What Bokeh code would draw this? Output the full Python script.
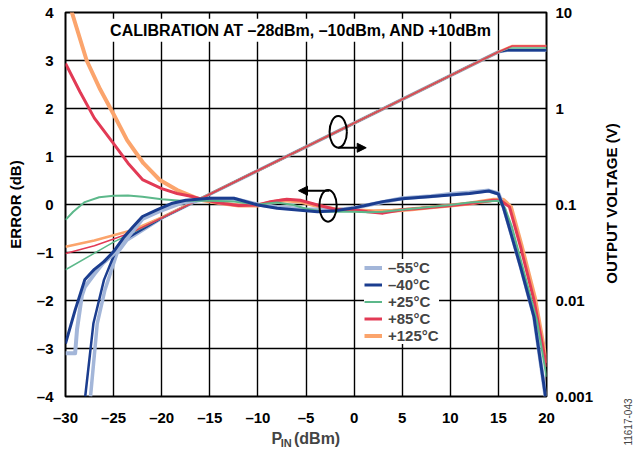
from math import pi
from bokeh.plotting import figure
from bokeh.layouts import row, column
from bokeh.models import (Range1d, LogAxis, LogScale, FixedTicker, CustomJSTickFormatter,
                          Legend, LegendItem, Label, Arrow, NormalHead)
from bokeh.embed import file_html
from bokeh.resources import INLINE

FONT = "Liberation Sans"

# ---------------- data ----------------
x_ticks = [-30, -25, -20, -15, -10, -5, 0, 5, 10, 15, 20]
y_ticks = [-4, -3, -2, -1, 0, 1, 2, 3, 4]
v_ticks = [0.001, 0.01, 0.1, 1, 10]

labels = ["\u201355\u00b0C", "\u201340\u00b0C", "+25\u00b0C", "+85\u00b0C", "+125\u00b0C"]

# error curves (dB)
pin_m55 = [-30, -29, -28.8, -28.3, -28, -27, -26, -25, -24, -22, -20, -18, -15, -12.5, -10, -8, -5, -2, 0, 2, 5, 8, 10, 12, 14, 15, 15.5, 16, 17.3, 18.7, 19.9]
err_m55 = [-3.1, -3.1, -2.6, -1.9, -1.72, -1.45, -1.2, -1.03, -0.8, -0.3, -0.12, 0.03, 0.12, 0.12, 0.0, -0.05, -0.1, -0.12, -0.07, 0.01, 0.13, 0.17, 0.22, 0.25, 0.29, 0.23, -0.03, -0.37, -1.28, -2.32, -4.0]

pin_m40 = [-30, -29, -28, -27, -26, -25, -24, -23, -22, -20.5, -19, -17.5, -15, -12.5, -10, -8, -5, -3.8, -2, 0, 1.4, 3, 5, 7, 10, 12, 14, 15, 15.5, 16, 17.3, 18.7, 19.9]
err_m40 = [-2.9, -2.2, -1.57, -1.35, -1.19, -0.98, -0.7, -0.47, -0.25, -0.11, 0.02, 0.09, 0.13, 0.13, -0.01, -0.08, -0.13, -0.15, -0.13, -0.07, -0.01, 0.06, 0.12, 0.15, 0.2, 0.23, 0.28, 0.22, -0.05, -0.39, -1.3, -2.34, -4.0]

pin_p25 = [-30, -29.2, -28, -26.5, -25, -23.5, -22, -20, -18, -15, -12.5, -10, -8, -6.3, -5, -3, 0, 1.5, 3, 5, 7, 10, 12, 15, 15.7, 16.4, 17.6, 19, 20]
err_p25 = [-0.32, -0.15, 0.05, 0.15, 0.18, 0.19, 0.16, 0.11, 0.08, 0.08, 0.06, 0.0, 0.04, -0.01, -0.09, -0.15, -0.15, -0.16, -0.15, -0.11, -0.07, -0.01, 0.04, 0.08, -0.08, -0.46, -1.36, -2.41, -3.59]

pin_p85 = [-30, -28.5, -27, -25, -23.5, -22, -20, -18.4, -16.7, -16, -14, -12, -10, -8.7, -7, -5.6, -3.8, -2, 0, 1.4, 3, 5, 7, 10, 12, 14.5, 15.2, 16.15, 17.3, 18.7, 20]
err_p85 = [2.94, 2.35, 1.8, 1.27, 0.86, 0.52, 0.33, 0.23, 0.16, 0.12, 0.03, -0.02, -0.01, 0.06, 0.11, 0.09, -0.01, -0.1, -0.11, -0.15, -0.18, -0.11, -0.08, -0.02, 0.02, 0.09, 0.09, -0.05, -0.88, -1.99, -3.38]

pin_p125 = [-30, -29.3, -27.8, -26.4, -25, -23.6, -21.9, -20.2, -18.4, -16.7, -16, -14, -12, -10, -8.5, -7.3, -5.6, -4, -2, 0, 2, 4, 6, 8, 10, 12, 14.5, 15.5, 16.3, 17.4, 18.8, 20]
err_p125 = [4.45, 3.98, 3.0, 2.4, 1.88, 1.34, 0.86, 0.51, 0.30, 0.16, 0.1, 0.03, -0.02, -0.02, 0.05, 0.09, 0.06, -0.02, -0.1, -0.12, -0.14, -0.13, -0.1, -0.06, -0.02, 0.02, 0.1, 0.1, -0.05, -0.85, -1.95, -3.3]

# output voltage curves (V)
vx_m55 = [-27.4, -26.7, -25.9, -24.65, -23.6, -20, -15, -10, -5, 0, 5, 10, 15, 15.9, 20]
v_m55 = [0.001, 0.00575, 0.0129, 0.031, 0.0427, 0.0724, 0.128, 0.226, 0.398, 0.705, 1.245, 2.2, 3.89, 4.04, 4.04]

vx_m40 = [-27.95, -27.1, -26.0, -24.8, -23.6, -20, -15, -10, -5, 0, 5, 10, 15, 15.9, 20]
v_m40 = [0.001, 0.00575, 0.0164, 0.0324, 0.0447, 0.0724, 0.128, 0.226, 0.398, 0.705, 1.245, 2.2, 3.89, 4.04, 4.04]

vx_p25 = [-30, -25, -20, -15, -10, -5, 0, 5, 10, 15, 16.1, 20]
v_p25 = [0.0209, 0.0405, 0.0724, 0.128, 0.226, 0.398, 0.705, 1.245, 2.2, 3.89, 4.27, 4.27]

vx_p85 = [-30, -27, -25, -23, -20, -15, -10, -5, 0, 5, 10, 15, 16.4, 20]
v_p85 = [0.0309, 0.0372, 0.0437, 0.0519, 0.0724, 0.128, 0.226, 0.398, 0.705, 1.245, 2.2, 3.89, 4.47, 4.47]

vx_p125 = [-30, -27, -25, -23, -20, -15, -10, -5, 0, 5, 10, 15, 16.4, 20]
v_p125 = [0.0363, 0.0422, 0.0479, 0.0543, 0.0735, 0.128, 0.226, 0.398, 0.705, 1.245, 2.2, 3.89, 4.47, 4.47]

colors = {"m55": "#a3b6d9", "m40": "#1b3d8f", "p25": "#5cb88a", "p85": "#e23a55", "p125": "#fba46c"}
widths = {"m55": 4, "m40": 3, "p25": 2, "p85": 3, "p125": 4}

# ---------------- main figure ----------------
p = figure(frame_width=481, frame_height=384,
           min_border_left=65, min_border_right=54, min_border_top=12, min_border_bottom=32,
           x_range=Range1d(-30, 20), y_range=Range1d(-4, 4),
           extra_y_ranges={"v": Range1d(0.001, 10)}, extra_y_scales={"v": LogScale()},
           output_backend="svg", toolbar_location=None, background_fill_color="white",
           border_fill_color="white")
p.outline_line_color = "black"
p.outline_line_width = 2
p.outline_line_alpha = 1

neg_fmt = "return tick < 0 ? '\\u2013' + (-tick) : '' + tick;"

xa = p.xaxis[0]
xa.ticker = FixedTicker(ticks=x_ticks)
xa.formatter = CustomJSTickFormatter(code=neg_fmt)
xa.major_label_standoff = 12
xa.axis_label_standoff = 0

ya = p.yaxis[0]
ya.ticker = FixedTicker(ticks=y_ticks)
ya.formatter = CustomJSTickFormatter(code=neg_fmt)
ya.major_label_standoff = 12
ya.axis_label = "ERROR (dB)"
ya.axis_label_standoff = 10

ra = LogAxis(y_range_name="v", ticker=FixedTicker(ticks=v_ticks),
             formatter=CustomJSTickFormatter(code="return '' + tick;"))
ra.major_label_standoff = 9
ra.axis_label_standoff = 0
p.add_layout(ra, "right")

for ax in (xa, ya, ra):
    ax.axis_line_color = None
    ax.major_tick_line_color = None
    ax.minor_tick_line_color = None
    ax.major_tick_out = 0
    ax.major_tick_in = 0
    ax.minor_tick_out = 0
    ax.minor_tick_in = 0
    ax.major_label_text_font = FONT
    ax.major_label_text_font_size = "15px"
    ax.major_label_text_font_style = "bold"
    ax.major_label_text_color = "black"
    ax.axis_label_text_font = FONT
    ax.axis_label_text_font_size = "15px"
    ax.axis_label_text_font_style = "bold"
    ax.axis_label_text_color = "black"

p.xgrid.ticker = FixedTicker(ticks=x_ticks)
p.ygrid.ticker = FixedTicker(ticks=y_ticks)
for g in (p.xgrid[0], p.ygrid[0]):
    g.grid_line_color = "black"
    g.grid_line_width = 1.4
    g.grid_line_alpha = 1

# ---------------- curves ----------------
err_data = {"m55": (pin_m55, err_m55), "m40": (pin_m40, err_m40), "p25": (pin_p25, err_p25),
            "p85": (pin_p85, err_p85), "p125": (pin_p125, err_p125)}
v_data = {"m55": (vx_m55, v_m55), "m40": (vx_m40, v_m40), "p25": (vx_p25, v_p25),
          "p85": (vx_p85, v_p85), "p125": (vx_p125, v_p125)}

for k in ["m55", "m40", "p125", "p25", "p85"]:
    vx, vy = v_data[k]
    w = 3.5 if k == "m55" else 2.5 if k in ("m40", "p125") else 1.5
    p.line(vx, vy, y_range_name="v", line_color=colors[k], line_width=w, line_join="round")

renderers = {}
for k in ["p125", "m55", "p85", "p25", "m40"]:
    ex, ey = err_data[k]
    renderers[k] = p.line(ex, ey, line_color=colors[k], line_width=widths[k], line_join="round")

legend = Legend(items=[LegendItem(label=lab, renderers=[renderers[k]])
                       for lab, k in zip(labels, ["m55", "m40", "p25", "p85", "p125"])],
                location=(299, 52), margin=0, padding=8, spacing=-1,
                glyph_width=18, glyph_height=15, label_height=15, label_standoff=6,
                label_text_font=FONT, label_text_font_size="15px", label_text_font_style="bold",
                border_line_color=None, background_fill_color="white", background_fill_alpha=1)
p.add_layout(legend)

# ---------------- annotations ----------------
p.add_layout(Label(x=-5.5, y=3.63, text="CALIBRATION AT \u201328dBm, \u201310dBm, AND +10dBm",
                   text_align="center", text_baseline="middle", text_font=FONT,
                   text_font_size="16px", text_font_style="bold", text_color="black",
                   background_fill_color="white", padding=3))

p.ellipse(x=[-1.65, -2.71], y=[1.513, -0.027], width=1.8, height=0.66,
          fill_color=None, line_color="black", line_width=2)
p.add_layout(Arrow(end=NormalHead(size=9, fill_color="black", line_color="black"),
                   x_start=-1.65, y_start=1.182, x_end=1.26, y_end=1.182, line_width=2))
p.add_layout(Arrow(end=NormalHead(size=9, fill_color="black", line_color="black"),
                   x_start=-2.59, y_start=0.287, x_end=-5.78, y_end=0.287, line_width=2))


def strip(w, h):
    f = figure(width=w, height=h, x_range=Range1d(0, w), y_range=Range1d(0, h),
               x_axis_location=None, y_axis_location=None, min_border=0,
               min_border_left=0, min_border_right=0, min_border_top=0, min_border_bottom=0,
               output_backend="svg", toolbar_location=None,
               background_fill_color="white", border_fill_color="white")
    f.outline_line_color = None
    f.grid.visible = False
    return f


# right strip: right-axis title and figure code (read bottom to top)
p2 = strip(34, 449)
p2.add_layout(Label(x=11, y=246, text="OUTPUT VOLTAGE (V)", angle=pi / 2,
                    text_align="center", text_baseline="middle", text_font=FONT,
                    text_font_size="15px", text_font_style="bold", text_color="black"))
p2.add_layout(Label(x=27, y=51, text="11617-043", angle=pi / 2, text_align="right",
                    text_baseline="middle", text_font=FONT, text_font_size="10px",
                    text_color="#444444"))

# bottom strip: x-axis title with subscript
p3 = strip(600, 21)
p3.add_layout(Label(x=257, y=11, text="P", text_align="left", text_baseline="alphabetic",
                    text_font=FONT, text_font_size="16px", text_font_style="bold"))
p3.add_layout(Label(x=268.5, y=7, text="IN", text_align="left", text_baseline="alphabetic",
                    text_font=FONT, text_font_size="11px", text_font_style="bold"))
p3.add_layout(Label(x=285, y=11, text="(dBm)", text_align="left", text_baseline="alphabetic",
                    text_font=FONT, text_font_size="16px", text_font_style="bold"))

layout = row(column(p, p3, spacing=0), p2, spacing=0)
open("out.html", "w").write(file_html(layout, INLINE))
